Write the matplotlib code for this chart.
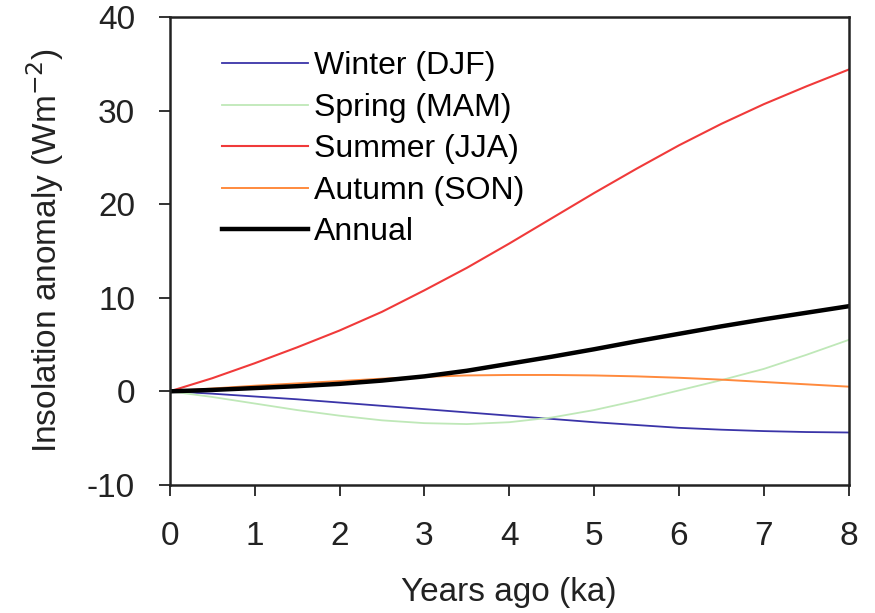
import matplotlib
matplotlib.use('Agg')
import matplotlib.pyplot as plt

plt.rcParams['font.family'] = ['Liberation Sans', 'DejaVu Sans']
plt.rcParams['axes.unicode_minus'] = False

# years ago (ka)
years = [0, 0.5, 1, 1.5, 2, 2.5, 3, 3.5, 4, 4.5, 5, 5.5, 6, 6.5, 7, 7.5, 8]

# insolation anomaly (W m-2)
winter = [0, -0.25, -0.55, -0.85, -1.2, -1.55, -1.9, -2.25, -2.6, -2.95, -3.3, -3.6, -3.9, -4.1, -4.25, -4.35, -4.4]
spring = [0, -0.6, -1.3, -2.0, -2.6, -3.1, -3.4, -3.5, -3.3, -2.8, -2.0, -1.0, 0.1, 1.2, 2.4, 3.9, 5.5]
summer = [0, 1.4, 3.0, 4.7, 6.5, 8.5, 10.8, 13.2, 15.8, 18.5, 21.2, 23.8, 26.3, 28.6, 30.7, 32.6, 34.4]
autumn = [0, 0.3, 0.6, 0.85, 1.1, 1.35, 1.55, 1.7, 1.75, 1.75, 1.7, 1.6, 1.45, 1.25, 1.0, 0.75, 0.5]
annual = [0, 0.15, 0.35, 0.55, 0.8, 1.15, 1.6, 2.2, 2.95, 3.7, 4.5, 5.35, 6.15, 6.95, 7.7, 8.4, 9.1]

labels = ['Winter (DJF)', 'Spring (MAM)', 'Summer (JJA)', 'Autumn (SON)', 'Annual']

fig = plt.figure(figsize=(8.75, 6.13), dpi=100)
ax = fig.add_axes([0.194, 0.209, 0.776, 0.763])

ax.plot(years, winter, color='#3a34a8', lw=1.3, label=labels[0])
ax.plot(years, spring, color='#bfe8b8', lw=1.3, label=labels[1])
ax.plot(years, summer, color='#f03a3a', lw=1.5, label=labels[2])
ax.plot(years, autumn, color='#ff8a3d', lw=1.4, label=labels[3])
ax.plot(years, annual, color='black', lw=3.2, label=labels[4])

ax.set_xlim(0, 8)
ax.set_ylim(-10, 40)
ax.set_xticks(range(0, 9))
ax.set_yticks(range(-10, 41, 10))
ax.tick_params(direction='out', length=8, width=1.3, labelsize=24, colors='#222222')
ax.tick_params(axis='x', pad=18)
ax.tick_params(axis='y', pad=17)
for s in ax.spines.values():
    s.set_linewidth(1.8)
    s.set_color('#222222')

ax.set_xlabel('Years ago (ka)', fontsize=24, color='#222222')
ax.set_ylabel('Insolation anomaly (Wm$^{-2}$)', fontsize=24, color='#222222')
ax.xaxis.set_label_coords(0.5, -0.196)
ax.yaxis.set_label_coords(-0.153, 0.5)

ax.legend(loc='upper left', bbox_to_anchor=(0.0766, 0.927), frameon=False, fontsize=23,
          handlelength=2.7, handletextpad=0.2, labelspacing=0.36, borderpad=0, borderaxespad=0)

fig.savefig('out.png', dpi=100)
